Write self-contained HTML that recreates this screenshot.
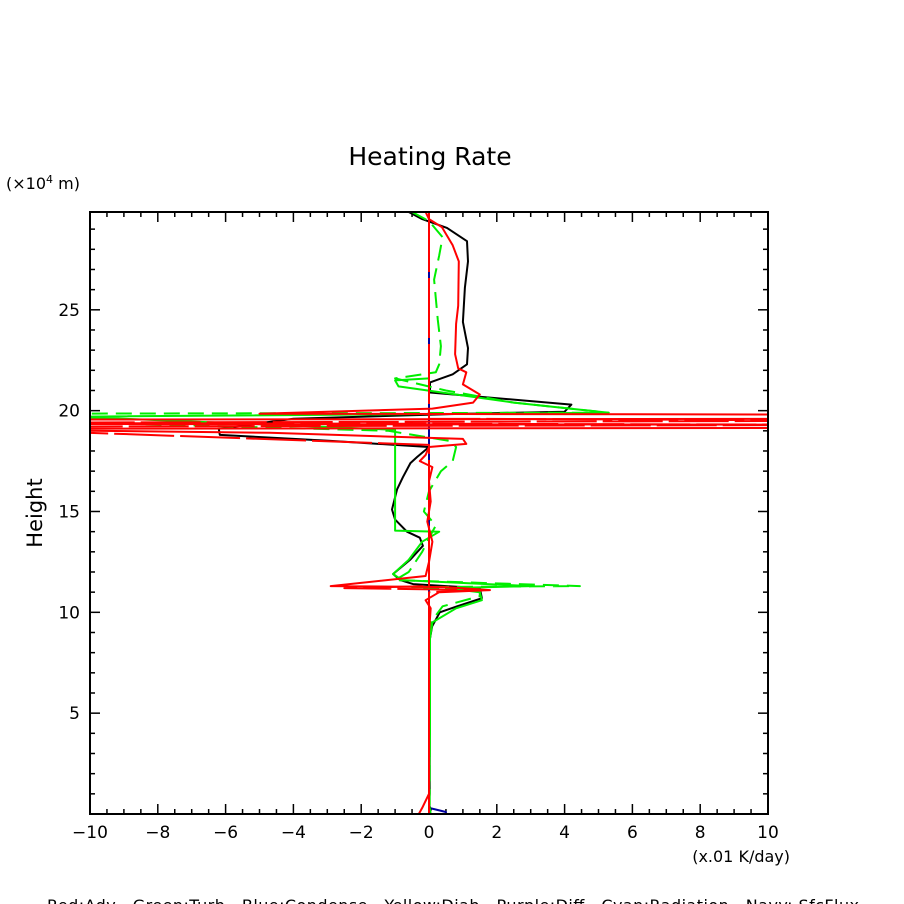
<!DOCTYPE html>
<html><head><meta charset="utf-8"><style>
html,body{margin:0;padding:0;background:#fff;}
svg{display:block;font-family:"DejaVu Sans","Liberation Sans",sans-serif;}
</style></head><body>
<svg id="chart" width="904" height="904" viewBox="0 0 904 904" xmlns="http://www.w3.org/2000/svg">
<defs><clipPath id="plotclip"><rect x="90" y="212" width="678" height="602"/></clipPath></defs>
<text x="430" y="165" font-size="25" text-anchor="middle" fill="#000">Heating Rate</text>
<text x="6" y="189" font-size="16" fill="#000">(×10<tspan font-size="11" dy="-6">4</tspan><tspan dy="6"> m)</tspan></text>
<text x="42" y="513" font-size="21" text-anchor="middle" transform="rotate(-90 42 513)" fill="#000">Height</text>
<text x="790" y="862" font-size="16" text-anchor="end" fill="#000">(x.01 K/day)</text>
<text x="453" y="911" font-size="16" text-anchor="middle" fill="#000" style="white-space:pre" xml:space="preserve" textLength="812" lengthAdjust="spacing">Red:Adv   Green:Turb   Blue:Condense   Yellow:Diab   Purple:Diff   Cyan:Radiation   Navy: SfcFlux</text>
<g id="axes"></g>
<g id="series" clip-path="url(#plotclip)"></g>
<rect x="90" y="212" width="678" height="602" fill="none" stroke="#000" stroke-width="2"/>
</svg>
<script>
const xTicks = [-10,-8,-6,-4,-2,0,2,4,6,8,10];
const yTicks = [5,10,15,20,25];
const blackH = [29.85,29.5,29.06,28.4,27.4,26.1,24.4,23.1,22.3,21.8,21.4,20.9,20.3,19.95,19.85,19.6,19.1,18.8,18.5,18.2,17.7,17.4,16.7,16.1,15.1,14.6,14.0,13.7,13.3,12.6,11.9,11.6,11.4,11.2,10.7,10.3,10.0,9.3,8.7,5,1,0.5,0.2,0];
const blackX = [-0.6,-0.2,0.53,1.12,1.15,1.06,1.0,1.15,1.12,0.7,0.03,0.03,4.2,4.0,1.0,-4.0,-6.2,-6.17,-2.9,0,-0.35,-0.55,-0.77,-0.94,-1.09,-1.0,-0.65,-0.27,-0.18,-0.56,-1.06,-0.85,-0.47,1.5,1.56,0.83,0.32,0.09,0.03,0.02,0.02,0,0.05,0];
const redH = [29.85,29.5,29.1,28.2,27.4,25.2,24.3,22.8,22.1,21.9,21.3,20.8,20.4,20.1,19.85,19.8,19.6,19.55,19.35,19.3,19.15,19.1,18.9,18.6,18.35,18.2,17.8,17.5,17.2,16.5,15.5,14.5,13.5,12.5,11.8,11.3,11.25,11.1,11.0,10.6,10.2,9,5,1,0.3,0];
const redX = [-0.1,0.0,0.38,0.7,0.88,0.86,0.8,0.77,0.86,1.1,1.0,1.5,1.3,0.1,-5,15,15,-15,-15,15,15,-15,-4.7,1.0,1.1,0,-0.1,-0.27,0.1,0.0,0.05,-0.05,0.1,0.0,-0.1,-2.9,0.5,1.8,0.3,-0.1,0.05,0,0,0,-0.2,-0.3];
const redDashH = [29.85,19.6,19.5,19.4,19.3,19.2,18.3,11.3,11.2,11.1,11.0,0];
const redDashX = [0,0,15,-15,15,-15,0,0,-2.5,1.5,0,0];
const greenH = [21.6,21.5,21.2,20.8,20.4,19.9,19.7,19.05,19.0,14.05,14.0,13.5,12.6,11.9,11.6,11.3,11.2,11.0,10.6,10.2,9.5,8.7,4,0.5,0];
const greenX = [0,-1.0,-0.9,0.8,2.5,5.3,-10.5,-1.0,-1.0,-1.0,0.3,-0.2,-0.6,-1.06,-0.8,3.0,0.5,1.5,1.56,0.8,0.1,0.03,0.03,0.0,0.05];
const greenDashH = [29.85,29.4,28.6,27.7,26.5,24.5,23.2,22.3,21.9,21.6,21.0,20.4,19.9,19.85,19.5,19.0,18.5,18.2,17.5,17.0,16.0,15.0,14.3,14.0,13.0,12.0,11.6,11.3,11.25,11.1,10.8,10.3,9.5,8.5,0];
const greenDashX = [-0.5,0,0.4,0.3,0.15,0.26,0.35,0.3,0.2,-1.0,0.5,2.5,5.3,-12,-12,-1.2,0.6,0.8,0.7,0.35,0.0,-0.15,0.2,0.1,-0.2,-0.6,-1.0,4.45,-0.5,1.5,1.5,0.4,0.05,0.02,0.02];
const blueH = [29.85,0.3,0.1,0];
const blueX = [0,0,0.5,0.5];

const X0=90,X1=768,Y0=814,Y1=212,XMIN=-10,XMAX=10,YMIN=0,YMAX=29.85;
function sx(v){return X0+(v-XMIN)/(XMAX-XMIN)*(X1-X0);}
function sy(v){return Y0-(v-YMIN)/(YMAX-YMIN)*(Y0-Y1);}
const NS="http://www.w3.org/2000/svg";
const axes=document.getElementById('axes');
const series=document.getElementById('series');
function mk(tag,attrs,parent){const e=document.createElementNS(NS,tag);for(const k in attrs)e.setAttribute(k,attrs[k]);parent.appendChild(e);return e;}
for(let v=XMIN;v<=XMAX+1e-9;v+=0.5){
  const major=Math.abs(v/2-Math.round(v/2))<1e-9;const L=major?10:5;const x=sx(v);
  const t1=mk('line',{x1:x,y1:Y0,x2:x,y2:Y0-L,stroke:'#000','stroke-width':1.5},axes);
  
  
  const t2=mk('line',{x1:x,y1:Y1,x2:x,y2:Y1+L,stroke:'#000','stroke-width':1.5},axes);
  
  
}
for(let v=1;v<=29;v+=1){
  const major=v%5===0;const L=major?10:5;const y=sy(v);
  const t1=mk('line',{x1:X0,y1:y,x2:X0+L,y2:y,stroke:'#000','stroke-width':1.5},axes);
  
  
  const t2=mk('line',{x1:X1,y1:y,x2:X1-L,y2:y,stroke:'#000','stroke-width':1.5},axes);
  
  
}
xTicks.forEach(v=>{
  const t=mk('text',{x:sx(v),y:838,'font-size':17,'text-anchor':'middle',fill:'#000'},axes);
  t.textContent=(v<0?'\u2212':'')+Math.abs(v);
  
  
});
yTicks.forEach(v=>{
  const t=mk('text',{x:80,y:sy(v)+6,'font-size':17,'text-anchor':'end',fill:'#000'},axes);
  t.textContent=v;
  
  
});
function drawLine(xs,hs,color,dash,name){
  const pts=xs.map((v,i)=>sx(v).toFixed(1)+','+sy(hs[i]).toFixed(1)).join(' ');
  const a={points:pts,fill:'none',stroke:color,'stroke-width':2,'stroke-linejoin':'round'};
  if(dash)a['stroke-dasharray']=dash;
  const p=mk('polyline',a,series);
  
  
}
drawLine(blueX,blueH,'#0000a0','','navy-sfcflux-line');
drawLine(blackX,blackH,'#000','','black-total-line');
drawLine(greenDashX,greenDashH,'#00ee00','16,8','green-dashed-line');
drawLine(greenX,greenH,'#00ee00','','green-turb-line');
drawLine(redDashX,redDashH,'#ff0000','60,6','red-dashed-line');
drawLine(redX,redH,'#ff0000','','red-adv-line');
</script>
</body></html>
